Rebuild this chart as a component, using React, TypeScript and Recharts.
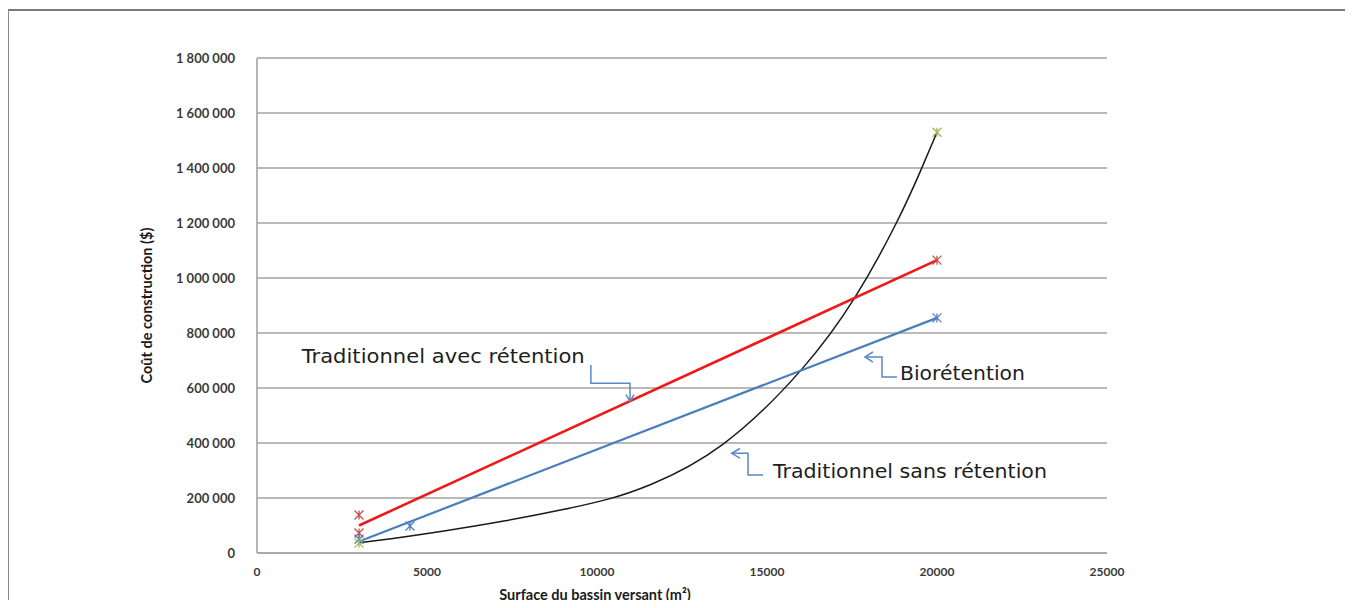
import React from 'react';
import { ComposedChart, Line, Scatter, XAxis, YAxis, CartesianGrid, ReferenceDot } from 'recharts';

const X_TICKS = [0, 5000, 10000, 15000, 20000, 25000];
const Y_TICKS = [0, 200000, 400000, 600000, 800000, 1000000, 1200000, 1400000, 1600000, 1800000];

// Traditionnel avec rétention (red)
const avecPoints = [
  { x: 3000, y: 138000 },
  { x: 3000, y: 73000 },
  { x: 20000, y: 1065000 },
];
const avecTrend = [
  { x: 3000, y: 100000 },
  { x: 20000, y: 1065000 },
];

// Biorétention (blue)
const bioPoints = [
  { x: 3000, y: 50000 },
  { x: 4500, y: 98000 },
  { x: 20000, y: 855000 },
];
const bioTrend = [
  { x: 3000, y: 42000 },
  { x: 20000, y: 855000 },
];

// Traditionnel sans rétention (green markers, black curve)
const sansPoints = [
  { x: 3000, y: 36000 },
  { x: 20000, y: 1530000 },
];
const sansTrend = [
  { x: 3000, y: 37000 },
  { x: 4000, y: 53000 },
  { x: 5500, y: 80000 },
  { x: 7300, y: 117000 },
  { x: 9000, y: 158000 },
  { x: 10300, y: 195000 },
  { x: 11600, y: 250000 },
  { x: 13700, y: 395000 },
  { x: 16000, y: 665000 },
  { x: 17600, y: 932000 },
  { x: 18800, y: 1199000 },
  { x: 19500, y: 1385000 },
  { x: 20000, y: 1530000 },
];

// annotation texts (start point / baseline in data units)
const notes = [
  { text: 'Traditionnel avec rétention', x: 1315, y: 691000, len: 283 },
  { text: 'Biorétention', x: 18911, y: 629000, len: 125 },
  { text: 'Traditionnel sans rétention', x: 15176, y: 272700, len: 274 },
];

// callout arrows
const arrowPaths = [
  [{ x: 9820, y: 684000 }, { x: 9820, y: 617000 }, { x: 10970, y: 617000 }, { x: 10970, y: 555000 }],
  [{ x: 10852, y: 576000 }, { x: 10970, y: 552000 }, { x: 11088, y: 576000 }],
  [{ x: 17882, y: 712700 }, { x: 18382, y: 712700 }, { x: 18382, y: 640000 }, { x: 18823, y: 640000 }],
  [{ x: 18117, y: 731000 }, { x: 17882, y: 712700 }, { x: 18117, y: 694500 }],
  [{ x: 13961, y: 362500 }, { x: 14441, y: 362500 }, { x: 14441, y: 283600 }, { x: 14882, y: 283600 }],
  [{ x: 14205, y: 380000 }, { x: 13961, y: 362500 }, { x: 14205, y: 345000 }],
];

const fmt = (v: number) => String(v).replace(/\B(?=(\d{3})+(?!\d))/g, ' ');

const starShape = (color: string) => (props: any) => {
  const { cx, cy } = props;
  if (cx == null || cy == null) return null;
  const s = 4.5;
  return (
    <path
      d={`M${cx - s},${cy - s}L${cx + s},${cy + s}M${cx - s},${cy + s}L${cx + s},${cy - s}M${cx},${cy - s}L${cx},${cy + s}`}
      stroke={color}
      strokeWidth={1.3}
      fill="none"
    />
  );
};

const axisFont = { fontFamily: 'Lato', fontWeight: 700, fill: '#3a3a3a' };
const titleStyle = { fontFamily: 'Lato', fontWeight: 700, fontSize: 14.5, fill: '#1a1a1a' };

export default function App() {
  return (
    <div style={{ position: 'relative', width: 1353, height: 608, margin: -8, overflow: 'hidden', background: '#fff' }}>
      <div
        style={{
          position: 'absolute', left: 8, top: 9, width: 1336, height: 640,
          borderTop: '2px solid #7a7a7a', borderLeft: '1px solid #8a8a8a', borderRight: '1px solid #8a8a8a',
        }}
      />
      <div style={{ position: 'absolute', left: 0, top: 0 }}>
        <ComposedChart width={1353} height={608} margin={{ top: 58, right: 246, left: 0, bottom: 0 }}>
          <CartesianGrid vertical={false} stroke="#a3a3a3" strokeWidth={1.6} />
          <XAxis
            type="number"
            dataKey="x"
            domain={[0, 25000]}
            ticks={X_TICKS}
            height={55}
            tickLine={false}
            tickMargin={8}
            axisLine={{ stroke: '#a3a3a3', strokeWidth: 1.6 }}
            tick={{ ...axisFont, fontSize: 12 }}
            label={() => (
              <text x={595} y={600} textAnchor="middle" style={titleStyle}>
                Surface du bassin versant (m²)
              </text>
            )}
          />
          <YAxis
            type="number"
            dataKey="y"
            domain={[0, 1800000]}
            ticks={Y_TICKS}
            width={257}
            tickLine={false}
            tickMargin={16}
            tickFormatter={fmt}
            axisLine={{ stroke: '#a3a3a3', strokeWidth: 1.6 }}
            tick={{ ...axisFont, fontSize: 13 }}
            label={(p: any) => {
              const cy = p.viewBox.y + p.viewBox.height / 2;
              return (
                <text
                  x={152}
                  y={cy}
                  textAnchor="middle"
                  transform={`rotate(-90, 152, ${cy})`}
                  style={titleStyle}
                >
                  Coût de construction ($)
                </text>
              );
            }}
          />

          <Line data={sansTrend} dataKey="y" type="natural" stroke="#1a1a1a" strokeWidth={1.5} dot={false} isAnimationActive={false} />
          <Line data={bioTrend} dataKey="y" type="linear" stroke="#4a7ebb" strokeWidth={2.2} dot={false} isAnimationActive={false} />
          <Line data={avecTrend} dataKey="y" type="linear" stroke="#f01818" strokeWidth={2.6} dot={false} isAnimationActive={false} />

          {arrowPaths.map((path, i) => (
            <Line key={'a' + i} data={path} dataKey="y" type="linear" stroke="#5a87c6" strokeWidth={1.5} dot={false} isAnimationActive={false} />
          ))}

          <Scatter data={avecPoints} dataKey="y" shape={starShape('#c0504d')} isAnimationActive={false} />
          <Scatter data={bioPoints} dataKey="y" shape={starShape('#4f81bd')} isAnimationActive={false} />
          <Scatter data={sansPoints} dataKey="y" shape={starShape('#9bbb59')} isAnimationActive={false} />

          {notes.map((n) => (
            <ReferenceDot
              key={n.text}
              x={n.x}
              y={n.y}
              r={0}
              fill="none"
              stroke="none"
              label={(p: any) => (
                <text
                  x={p.viewBox.x}
                  y={p.viewBox.y}
                  textLength={n.len}
                  lengthAdjust="spacingAndGlyphs"
                  style={{ fontFamily: 'DejaVu Sans', fontSize: 19, fill: '#1e1e1e' }}
                >
                  {n.text}
                </text>
              )}
            />
          ))}
        </ComposedChart>
      </div>
    </div>
  );
}
